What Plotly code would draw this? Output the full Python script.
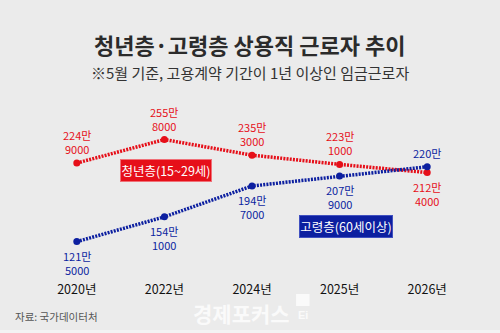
import plotly.graph_objects as go

years = ["2020년", "2022년", "2024년", "2025년", "2026년"]
youth = [224.9, 255.8, 235.3, 223.1, 212.4]          # 만 명
youth_l1 = ["224만", "255만", "235만", "223만", "212만"]
youth_l2 = ["9000", "8000", "3000", "1000", "4000"]
elder = [121.5, 154.1, 194.7, 207.9, 220.0]
elder_l1 = ["121만", "154만", "194만", "207만", "220만"]
elder_l2 = ["5000", "1000", "7000", "9000", ""]

RED = "#e60f19"
BLUE = "#0c1fa0"
BG = "#ebebeb"
FONT = "Noto Sans CJK KR"
LBL = 11

xs = list(range(len(years)))

fig = go.Figure()
fig.add_trace(go.Scatter(x=xs, y=youth, mode="lines+markers",
                         line=dict(color=RED, width=3.5, dash="2px,1.2px"),
                         marker=dict(color=RED, size=7), hoverinfo="skip"))
fig.add_trace(go.Scatter(x=xs, y=elder, mode="lines+markers",
                         line=dict(color=BLUE, width=3.5, dash="2px,1.2px"),
                         marker=dict(color=BLUE, size=7), hoverinfo="skip"))


def label(i, v, l1, l2, color, above):
    txt = l1 + ("<br>" + l2 if l2 else "")
    return dict(x=i, y=v, xref="x", yref="y", text=txt, showarrow=False,
                yanchor="bottom" if above else "top", borderpad=0,
                yshift=5 if above else -5, align="center",
                font=dict(family=FONT, size=LBL, color=color))


ann = []
n = len(years)
for i in range(n):
    ann.append(label(i, youth[i], youth_l1[i], youth_l2[i], RED, i < n - 1))
    ann.append(label(i, elder[i], elder_l1[i], elder_l2[i], BLUE, i == n - 1))

# pixel-positioned layout texts (converted to paper coords below)
px_ann = []
px_ann.append(dict(x=166, y=170.5, text="청년층(15~29세)",
                   bgcolor=RED, bordercolor="#f07078", borderwidth=1,
                   borderpad=0, width=90, height=21,
                   font=dict(family=FONT, size=12.5, color="white")))
px_ann.append(dict(x=346, y=226.5, text="고령층(60세이상)",
                   bgcolor=BLUE, bordercolor="#4050c0", borderwidth=1,
                   borderpad=0, width=92, height=21,
                   font=dict(family=FONT, size=12.5, color="white")))
px_ann.append(dict(x=250, y=44, text="<b>청년층·고령층 상용직 근로자 추이</b>",
                   font=dict(family=FONT, size=22, color="#2b2b2b")))
px_ann.append(dict(x=250, y=72, text="※5월 기준, 고용계약 기간이 1년 이상인 임금근로자",
                   font=dict(family=FONT, size=15, color="#333333")))
px_ann.append(dict(x=13, y=316, text="자료: 국가데이터처", xanchor="left",
                   font=dict(family=FONT, size=10.5, color="#555555")))
px_ann.append(dict(x=241.5, y=312.5, text="<b>경제포커스</b>",
                   font=dict(family=FONT, size=21, color="#fafafa")))
px_ann.append(dict(x=302.5, y=315, text="<b>Ei</b>",
                   font=dict(family="Liberation Sans", size=11, color="#fafafa")))

L, R, T, B = 33.25, 29.25, 60, 53
W, H = 500, 333
pw, ph = W - L - R, H - T - B
for a in px_ann:
    a["x"] = (a["x"] - L) / pw
    a["y"] = (H - B - a["y"]) / ph
    a.update(xref="paper", yref="paper", showarrow=False, yanchor="middle")
    a.setdefault("xanchor", "center")
    ann.append(a)

shapes = [
    dict(type="rect", xref="paper", yref="paper",
         x0=(296 - L) / pw, x1=(309.5 - L) / pw,
         y0=(H - B - 306) / ph, y1=(H - B - 294) / ph,
         fillcolor="#fafafa", line=dict(width=0), layer="above"),
    dict(type="rect", xref="paper", yref="paper",
         x0=-L / pw, x1=(W - L) / pw,
         y0=(H - B - 333) / ph, y1=(H - B - 330) / ph,
         fillcolor="#f3f3f3", line=dict(width=0), layer="below"),
]

fig.update_layout(
    width=W, height=H,
    margin=dict(l=L, r=R, t=T, b=B),
    paper_bgcolor=BG, plot_bgcolor=BG,
    showlegend=False,
    annotations=ann, shapes=shapes,
    xaxis=dict(range=[-0.5, 4.5], tickvals=xs, ticktext=years, showgrid=False,
               zeroline=False, showline=False, ticks="",
               tickfont=dict(family=FONT, size=12.5, color="#111111")),
    yaxis=dict(range=[71, 360.5], visible=False),
)

fig.write_html("out.html")
